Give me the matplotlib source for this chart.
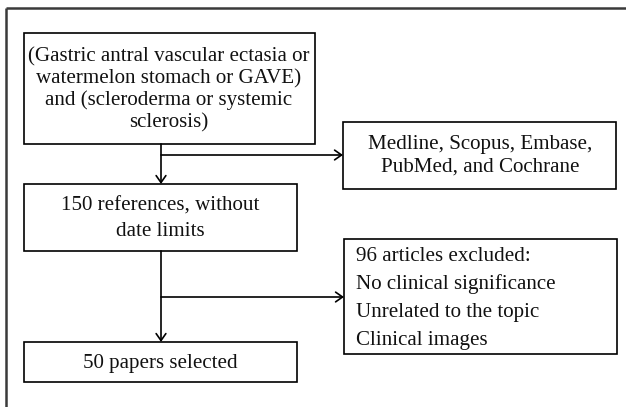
import matplotlib
matplotlib.use("Agg")
import matplotlib.pyplot as plt
from matplotlib.patches import Rectangle, FancyArrowPatch

# ---- content ----
query_text = ["(Gastric antral vascular ectasia or", "watermelon stomach or GAVE)",
              "and (scleroderma or systemic", "sclerosis)"]
sources_text = ["Medline, Scopus, Embase,", "PubMed, and Cochrane"]
refs_text = ["150 references, without", "date limits"]
excluded_text = ["96 articles excluded:", "No clinical significance",
                 "Unrelated to the topic", "Clinical images"]
selected_text = ["50 papers selected"]

# ---- layout (pixels) ----
W, H = 626, 407
fig = plt.figure(figsize=(W / 100, H / 100), dpi=100)
ax = fig.add_axes([0, 0, 1, 1])
ax.set_xlim(0, W)
ax.set_ylim(H, 0)
ax.axis("off")

FONT = "Liberation Serif"
FS = 15.1
lw = 1.2
DY = 1.5

# outer frame (only top & left visible)
ax.plot([6, 6], [H + 5, 7.5], color="#3a3a3a", lw=1.8, solid_capstyle="butt")
ax.plot([6, W + 5], [7.5, 7.5], color="#3a3a3a", lw=1.8, solid_capstyle="butt")

def box(x0, y0, x1, y1):
    ax.add_patch(Rectangle((x0, y0), x1 - x0, y1 - y0, fill=False,
                           edgecolor="black", lw=lw))

def centered(lines, xc, ys):
    for t, y in zip(lines, ys):
        ax.text(xc, y + DY, t, ha="center", va="center", fontsize=FS,
                family=FONT, color="#111111")

def left(lines, x, ys):
    for t, y in zip(lines, ys):
        ax.text(x, y + DY, t, ha="left", va="center", fontsize=FS,
                family=FONT, color="#111111")

def arrow(p0, p1):
    ax.add_patch(FancyArrowPatch(p0, p1, arrowstyle="->,head_length=5,head_width=3.5",
                                 mutation_scale=1, lw=lw, color="black",
                                 shrinkA=0, shrinkB=0))

# boxes
box(24, 33, 315, 144)
centered(query_text, 169, [55, 77, 99, 121])

box(343, 122, 616, 189)
centered(sources_text, 480, [143, 166])

box(24, 184, 297, 251)
centered(refs_text, 160, [205, 230])

box(344, 239, 617, 354)
left(excluded_text, 356, [255, 283, 311, 339])

box(24, 342, 297, 382)
centered(selected_text, 160, [362])

# connectors
arrow((161, 144), (161, 184))
arrow((161, 155), (343, 155))
arrow((161, 251), (161, 342))
arrow((161, 297), (344, 297))

fig.savefig("out.png", dpi=100, facecolor="white")
